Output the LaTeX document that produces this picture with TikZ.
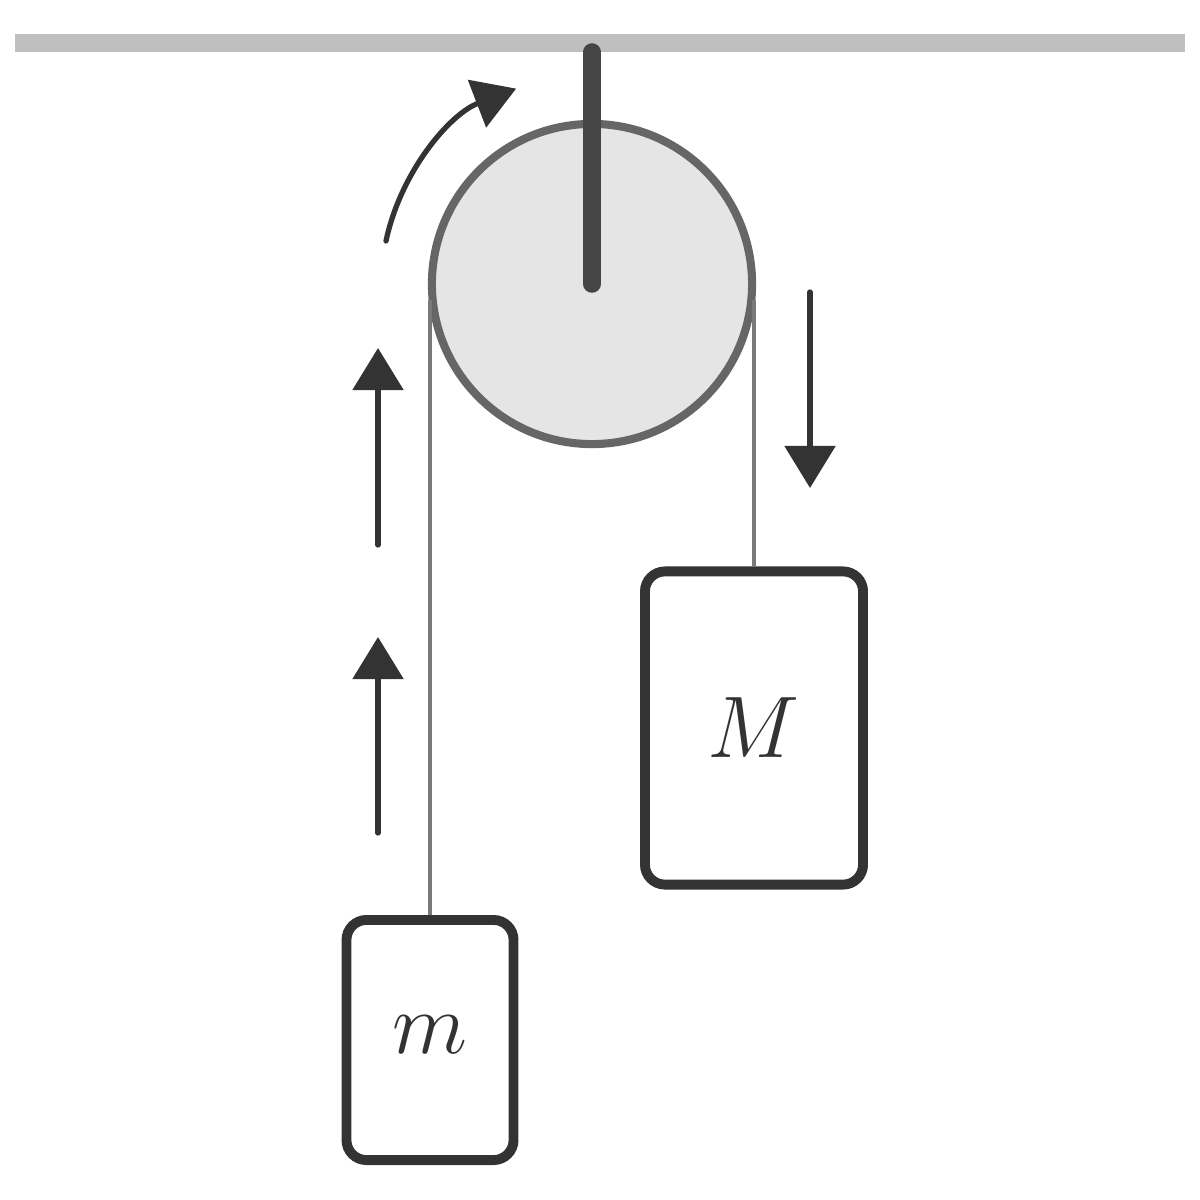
\documentclass[tikz,border=0pt]{standalone}
\usetikzlibrary{arrows.meta}
\definecolor{ink}{HTML}{333333}
\tikzset{
 box/.style={draw=ink,line width=2.8pt,rounded corners=0.2cm,fill=white},
 rope/.style={draw=black!52,line width=0.9pt},
 motion/.style={draw=ink,line width=1.5pt,line cap=round,-{Triangle[length=0.42cm,width=0.5cm]}},
 lbl/.style={text=ink,font=\fontsize{36}{40}\selectfont}
}
\begin{document}
\begin{tikzpicture}[x=0.01cm,y=-0.01cm]
\useasboundingbox (0,0) rectangle (1200,1200);
\draw[draw=black!25,line width=5pt] (15,43) -- (1185,43);
\node[circle,draw=black!60,fill=black!10,line width=2.3pt,minimum size=3.2cm,inner sep=0] (p) at (592,284) {};
\coordinate (ct) at (592,52);
\coordinate (cb) at (592,284);
\draw[draw=black!73,line width=5pt,line cap=round] (ct) -- (cb);
\node[box,minimum width=2.18cm,minimum height=3.13cm] (M) at (754,728) {};
\node[box,minimum width=1.67cm,minimum height=2.4cm] (m) at (430,1040) {};
\node[lbl] at (754,728) {$M$};
\node[lbl] at (430,1035) {$m$};
\coordinate (lt) at (430,300);
\coordinate (rt) at (754,300);
\draw[rope] (lt) -- (m.north -| lt);
\draw[rope] (rt) -- (M.north -| rt);
\coordinate (a1) at (378,545); \coordinate (a1t) at (378,348);
\coordinate (a2) at (378,833); \coordinate (a2t) at (378,637);
\coordinate (a3) at (810,292); \coordinate (a3t) at (810,488);
\draw[motion] (a1) -- (a1t);
\draw[motion] (a2) -- (a2t);
\draw[motion] (a3) -- (a3t);
\draw[motion] (386,241) arc[start angle=-168,end angle=-111,radius=210];
\end{tikzpicture}
\end{document}
